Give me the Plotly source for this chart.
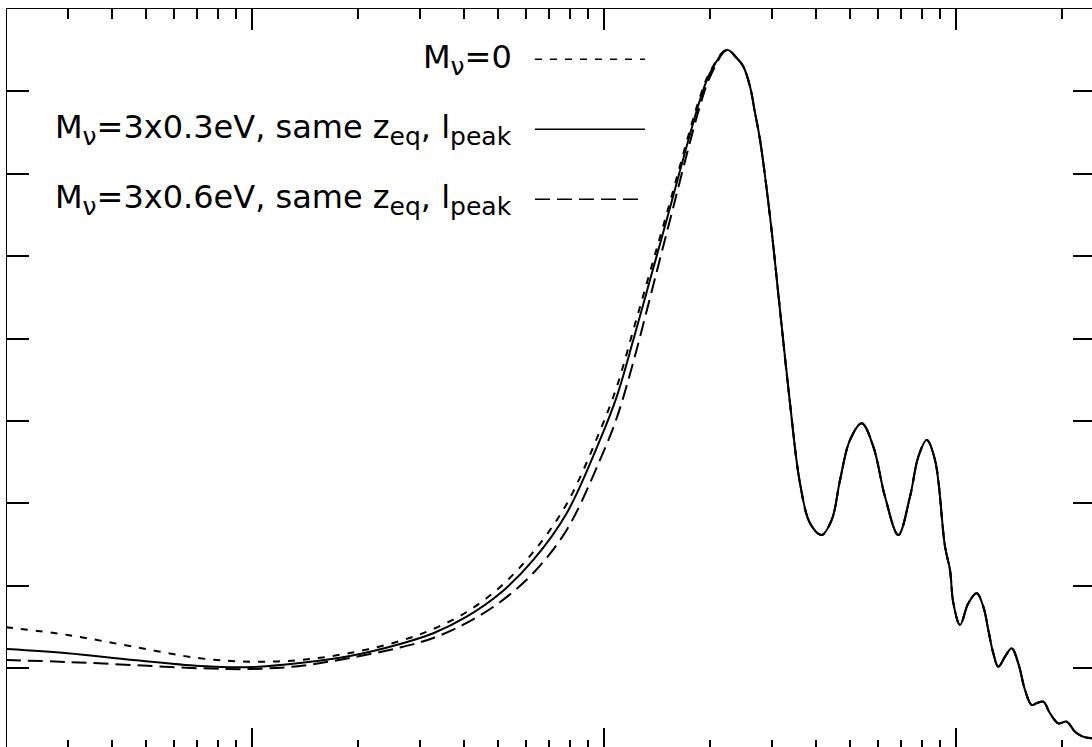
import plotly.graph_objects as go

# multipole l (shared grid for the low-l / rise part)
l_low = [2, 3, 4.6, 7.13, 10, 13.7, 19, 26.4, 32.8, 40.8, 50.8, 63.1, 78.5,
         97.6, 108.9, 121.4, 135.4, 151, 187.8, 200.5, 223.6]

# values (arbitrary units) for each model on the low-l grid
v_m0 = [1.495, 1.401, 1.259, 1.118, 1.077, 1.097, 1.182, 1.328, 1.474, 1.680,
        1.984, 2.409, 2.992, 3.879, 4.413, 5.105, 5.810, 6.514, 7.935, 8.238, 8.506]
v_03 = [1.231, 1.179, 1.097, 1.025, 1.012, 1.061, 1.146, 1.292, 1.422, 1.623,
        1.907, 2.312, 2.879, 3.769, 4.295, 4.984, 5.712, 6.441, 7.898, 8.223, 8.506]
v_06 = [1.097, 1.073, 1.036, 0.997, 0.988, 1.025, 1.122, 1.249, 1.365, 1.547,
        1.802, 2.154, 2.676, 3.526, 4.036, 4.717, 5.494, 6.283, 7.826, 8.178, 8.500]

# high-l part, common to all three models
l_high = [238.7, 249.2, 260.4, 269.1, 278.0, 296.8, 316.8, 338.2, 361.1, 385.6,
          416.2, 444.3, 469.3, 500.9, 540.8, 583.4, 629.6, 686.9, 741.7, 783.2,
          827.4, 873.4, 932.4, 963.4, 984.5, 1028.5, 1085.9, 1147.4, 1197.9,
          1237.6, 1278.8, 1321.3, 1380.6, 1442.5, 1505.9, 1573.5, 1644.1, 1702,
          1774, 1853.5, 1956, 2067, 2182, 2304, 2439]
v_high = [8.405, 8.303, 8.060, 7.737, 7.413, 6.481, 5.348, 4.215, 3.243, 2.758,
          2.615, 2.798, 3.283, 3.769, 3.972, 3.688, 3.081, 2.615, 3.081, 3.566,
          3.769, 3.526, 2.473, 2.190, 1.790, 1.522, 1.786, 1.907, 1.745,
          1.462, 1.179, 1.016, 1.138, 1.239, 1.057, 0.733, 0.551, 0.575,
          0.591, 0.450, 0.329, 0.348, 0.227, 0.166, 0.146]

# tick positions
x_major = [10, 100, 1000]
x_minor = [3, 4, 5, 6, 7, 8, 9, 20, 30, 40, 50, 60, 70, 80, 90,
           200, 300, 400, 500, 600, 700, 800, 900, 2000]


def sub(s):
    return '<sub><span style="font-size:25px">' + s + '</span></sub>'


labels = ["M" + sub("ν") + "=0",
          "M" + sub("ν") + "=3x0.3eV, same z" + sub("eq") + ", l" + sub("peak"),
          "M" + sub("ν") + "=3x0.6eV, same z" + sub("eq") + ", l" + sub("peak")]
dashes = ["7px,8px", "solid", "15px,7px"]
series = [v_m0, v_03, v_06]

fig = go.Figure()
for vals, dash, lab in zip(series, dashes, labels):
    fig.add_trace(go.Scatter(
        x=l_low + l_high, y=vals + v_high, mode="lines",
        line=dict(color="black", width=2, dash=dash, shape="spline", smoothing=1.0),
        showlegend=False, hoverinfo="skip"))

# invisible trace anchoring the mirrored (top/right) axes
fig.add_trace(go.Scatter(x=l_low + l_high, y=v_03 + v_high, xaxis="x2", yaxis="y2",
                         mode="lines", line=dict(color="rgba(0,0,0,0)"),
                         showlegend=False, hoverinfo="skip"))

xr = [0.3048, 3.3872]
yr = [0.041, 9.0]


def xax(ticklen, minorlen, **kw):
    d = dict(type="log", range=xr, showgrid=False, zeroline=False,
             ticks="inside", ticklen=ticklen, tickwidth=2, tickcolor="black",
             tickmode="array", tickvals=x_major, showticklabels=False,
             minor=dict(ticks="inside", ticklen=minorlen, tickwidth=2,
                        tickcolor="black", tickmode="array", tickvals=x_minor,
                        showgrid=False))
    d.update(kw)
    return d


fig.update_layout(
    width=1092, height=747,
    margin=dict(l=7, r=0, t=9, b=0),
    paper_bgcolor="white", plot_bgcolor="white",
    font=dict(family="DejaVu Sans, sans-serif", color="black"),
    xaxis=xax(19, 7, showline=False),
    xaxis2=xax(21, 10, overlaying="x", side="top", showline=True,
               linecolor="black", linewidth=1),
    yaxis=dict(range=yr, showgrid=False, zeroline=False, showline=True,
               linecolor="black", linewidth=1, ticks="inside", ticklen=22,
               tickwidth=2, tickcolor="black", tick0=0, dtick=1,
               showticklabels=False),
    yaxis2=dict(range=yr, overlaying="y", side="right", showgrid=False,
                zeroline=False, showline=False, ticks="inside", ticklen=19,
                tickwidth=2, tickcolor="black", tick0=0, dtick=1,
                showticklabels=False),
)

# legend (gnuplot style: right-aligned text, sample line to the right)
leg_y = [0.9318, 0.8370, 0.7421]
for lab, dash, yy in zip(labels, dashes, leg_y):
    fig.add_annotation(x=0.467, y=yy, xref="paper", yref="paper", text=lab,
                       showarrow=False, xanchor="right", yanchor="middle",
                       font=dict(size=32, color="black"))
    fig.add_shape(type="line", xref="paper", yref="paper",
                  x0=0.4866, x1=0.588, y0=yy, y1=yy,
                  line=dict(color="black", width=1.5, dash=dash))

fig.write_html("out.html", config={"displayModeBar": False},
               post_script="document.body.style.margin='0px';")
